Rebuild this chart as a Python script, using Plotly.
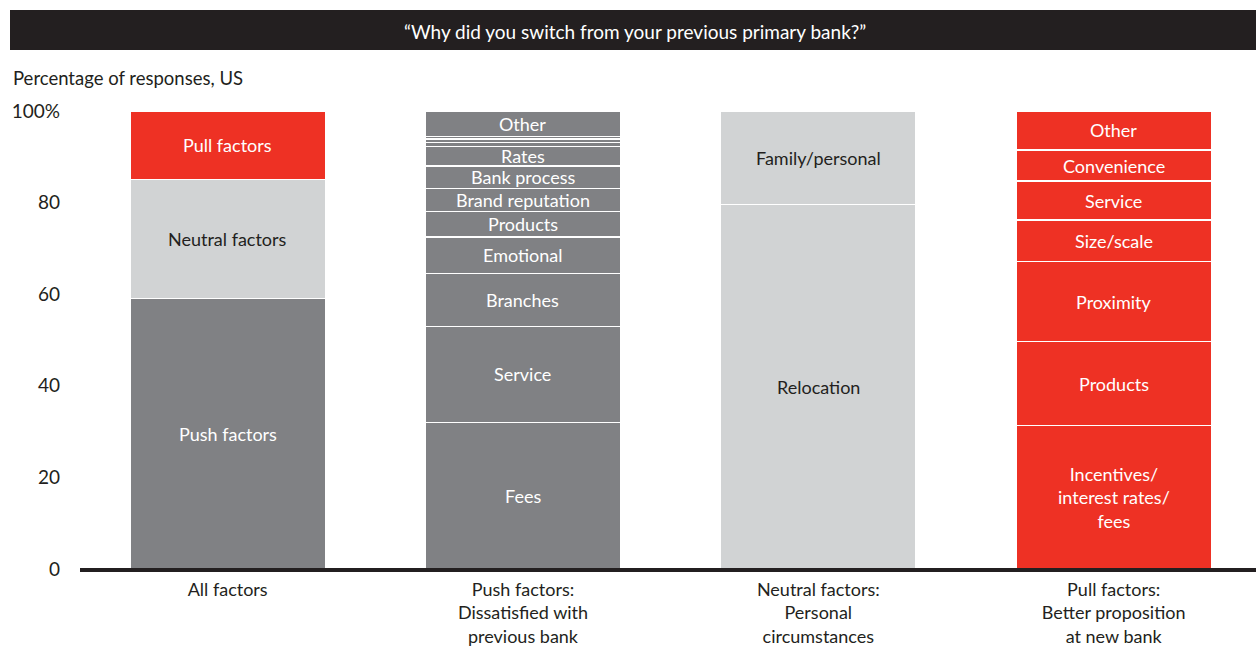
import plotly.graph_objects as go

categories = ["All factors", "Push factors:<br>Dissatisfied with<br>previous bank",
              "Neutral factors:<br>Personal<br>circumstances", "Pull factors:<br>Better proposition<br>at new bank"]

all_labels = ["Push factors", "Neutral factors", "Pull factors"]
all_values = [59, 26, 15]

push_labels = ["Fees", "Service", "Branches", "Emotional", "Products", "Brand reputation",
               "Bank process", "Rates", "", "", "", "Other"]
push_values = [32, 21, 11.5, 8, 5.5, 5, 5, 4.2, 1.0, 0.7, 0.6, 5.5]

neutral_labels = ["Relocation", "Family/personal"]
neutral_values = [79.5, 20.5]

pull_labels = ["Incentives/<br>interest rates/<br>fees", "Products", "Proximity", "Size/scale",
               "Service", "Convenience", "Other"]
pull_values = [31.4, 18.2, 17.6, 9, 8.5, 6.8, 8.5]

y_ticks = [0, 20, 40, 60, 80, 100]
y_ticktext = ["0", "20", "40", "60", "80", "100%"]

DARK = "#808184"
LIGHT = "#d1d3d4"
RED = "#ee3124"
INK = "#231f20"
FONT = "Lato"

all_colors = [DARK, LIGHT, RED]
all_text_colors = ["white", INK, "white"]

fig = go.Figure()
annotations = []

def add_stack(cat, labels, values, colors, text_colors):
    base = 0
    for lab, val, col, tcol in zip(labels, values, colors, text_colors):
        fig.add_trace(go.Bar(x=[cat], y=[val], marker=dict(color=col, line=dict(color="white", width=1.2)),
                             width=0.66, showlegend=False, hoverinfo="skip"))
        if lab:
            annotations.append(dict(x=cat, y=base + val / 2, xref="x", yref="y", text=lab,
                                    showarrow=False, font=dict(family=FONT, size=18, color=tcol),
                                    align="center"))
        base += val

add_stack(categories[0], all_labels, all_values, all_colors, all_text_colors)
add_stack(categories[1], push_labels, push_values, [DARK] * len(push_values), ["white"] * len(push_values))
add_stack(categories[2], neutral_labels, neutral_values, [LIGHT] * 2, [INK] * 2)
add_stack(categories[3], pull_labels, pull_values, [RED] * len(pull_values), ["white"] * len(pull_values))

W, H = 1256, 647
ml, mr, mt, mb = 80, 0, 111, 78
pw, ph = W - ml - mr, H - mt - mb

def px_x(x):
    return (x - ml) / pw

def px_y(y):
    return (H - mb - y) / ph

annotations.append(dict(x=px_x(635), y=px_y(31), xref="paper", yref="paper",
                        text="\u201cWhy did you switch from your previous primary bank?\u201d",
                        showarrow=False, xanchor="center", yanchor="middle",
                        font=dict(family=FONT, size=19, color="white")))
annotations.append(dict(x=px_x(11), y=px_y(78), xref="paper", yref="paper",
                        text="Percentage of responses, US", showarrow=False,
                        xanchor="left", yanchor="middle", font=dict(family=FONT, size=18.5, color=INK)))

shapes = [
    dict(type="rect", xref="paper", yref="paper", x0=px_x(10), x1=px_x(1256),
         y0=px_y(50), y1=px_y(10), fillcolor=INK, line=dict(width=0), layer="below"),
    dict(type="line", xref="paper", yref="paper", x0=0, x1=1, y0=px_y(570), y1=px_y(570),
         line=dict(color=INK, width=4)),
]

fig.update_layout(
    width=W, height=H, barmode="stack",
    margin=dict(l=ml, r=mr, t=mt, b=mb),
    paper_bgcolor="white", plot_bgcolor="white",
    annotations=annotations, shapes=shapes,
    font=dict(family=FONT, size=18, color=INK),
    xaxis=dict(range=[-0.5, 3.482], showgrid=False, showline=False, ticks="",
               tickfont=dict(family=FONT, size=18, color=INK),
               ticklabelstandoff=8, fixedrange=True),
    yaxis=dict(range=[0, 100], tickvals=y_ticks, ticktext=y_ticktext, showgrid=False, zeroline=False,
               showline=False, ticks="", tickfont=dict(family=FONT, size=19, color=INK),
               ticklabelstandoff=19, fixedrange=True),
)

fig.write_html("out.html", config={"displayModeBar": False},
               post_script="document.body.style.margin='0';document.body.style.overflow='hidden';")
